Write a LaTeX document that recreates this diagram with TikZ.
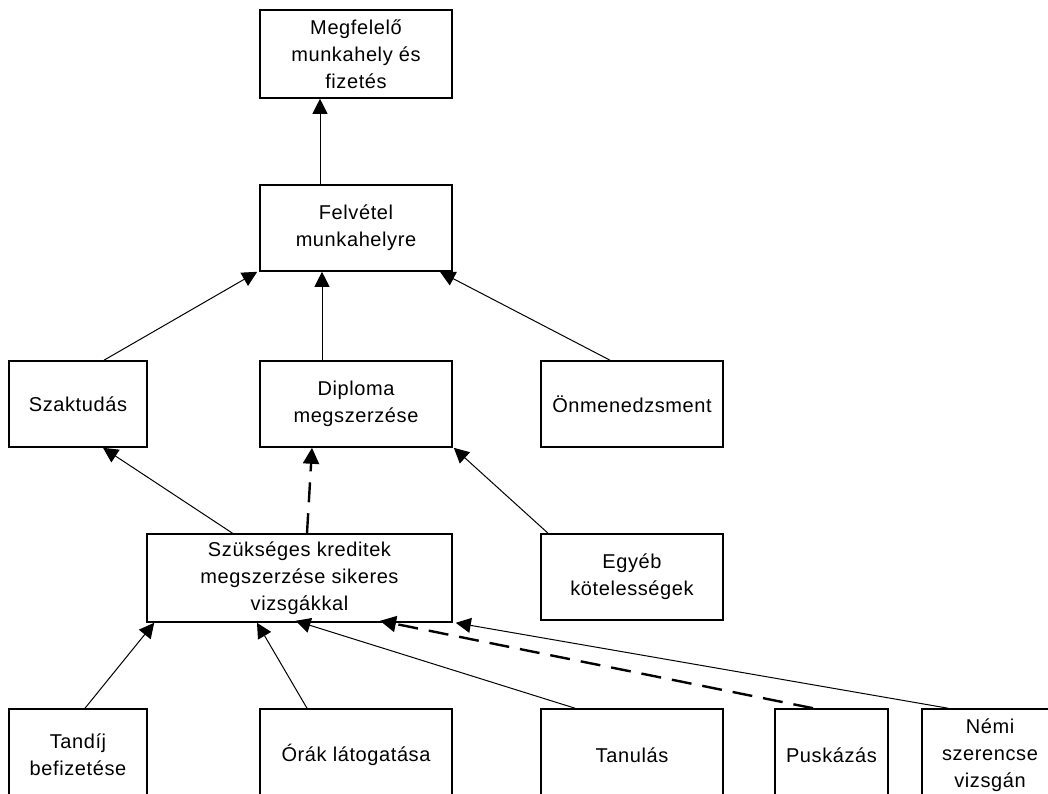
\documentclass[tikz,border=0pt]{standalone}
\usepackage{fontspec}
\setmainfont{Liberation Sans}[LetterSpace=3]
\usetikzlibrary{arrows.meta}
\begin{document}
\begin{tikzpicture}[x=1pt,y=-1pt,
  box/.style={draw=black,line width=1.6pt,rectangle,align=center,inner sep=0pt,
    font=\fontsize{20}{27}\selectfont},
  arr/.style={line width=1pt,-{Triangle[length=15pt,width=15pt]}},
  darr/.style={line width=2.4pt,dash pattern=on 20pt off 11pt,-{Triangle[length=16pt,width=16pt]}}]
\useasboundingbox (0,0) rectangle (1048,793);
\node[box,minimum width=192pt,minimum height=88pt] (top) at (356,54) {Megfelelő\\munkahely és\\fizetés};
\node[box,minimum width=192pt,minimum height=86pt] (felv) at (356,228) {Felvétel\\munkahelyre};
\node[box,minimum width=138pt,minimum height=86pt] (szak) at (78,404) {Szaktudás};
\node[box,minimum width=192pt,minimum height=86pt] (dipl) at (356,404) {Diploma\\megszerzése};
\node[box,minimum width=182pt,minimum height=86pt] (onm) at (632,404) {Önmenedzsment};
\node[box,minimum width=305pt,minimum height=88pt] (szuk) at (299.5,578) {Szükséges kreditek\\megszerzése sikeres\\vizsgákkal};
\node[box,minimum width=182pt,minimum height=86pt] (egyeb) at (632,577) {Egyéb\\kötelességek};
\node[box,minimum width=138pt,minimum height=92pt] (tand) at (78,755) {Tandíj\\befizetése};
\node[box,minimum width=192pt,minimum height=92pt] (orak) at (356,755) {Órák látogatása};
\node[box,minimum width=182pt,minimum height=92pt] (tanul) at (632,755) {Tanulás};
\node[box,minimum width=113pt,minimum height=92pt] (pusk) at (831.5,755) {Puskázás};
\node[box,minimum width=136pt,minimum height=92pt] (nemi) at (990,755) {Némi\\szerencse\\vizsgán};
% connectors
\draw[arr] ([xshift=-36pt]felv.north) -- ([xshift=-36pt]top.south);
\draw[arr] ([xshift=26pt]szak.north) -- ([xshift=-2pt]felv.south west);
\draw[arr] ([xshift=-34pt]dipl.north) -- ([xshift=-34pt]felv.south);
\draw[arr] ([xshift=-22pt]onm.north) -- ([xshift=84pt]felv.south);
\draw[arr] ([xshift=-67pt]szuk.north) -- ([xshift=25pt]szak.south);
\draw[darr] ([xshift=7.5pt]szuk.north) -- ([xshift=-44pt]dipl.south);
\draw[arr] ([xshift=-84pt]egyeb.north) -- ([xshift=1pt]dipl.south east);
\draw[arr] ([xshift=7pt]tand.north) -- ([xshift=8pt]szuk.south west);
\draw[arr] ([xshift=-49pt]orak.north) -- ([xshift=-42.5pt]szuk.south);
\draw[arr] ([xshift=-57pt]tanul.north) -- ([xshift=-4pt,yshift=2pt]szuk.south);
\draw[darr] ([xshift=-18.5pt]pusk.north) -- ([xshift=80.5pt,yshift=2pt]szuk.south);
\draw[arr] ([xshift=-42pt]nemi.north) -- ([xshift=3pt]szuk.south east);
\end{tikzpicture}
\end{document}
